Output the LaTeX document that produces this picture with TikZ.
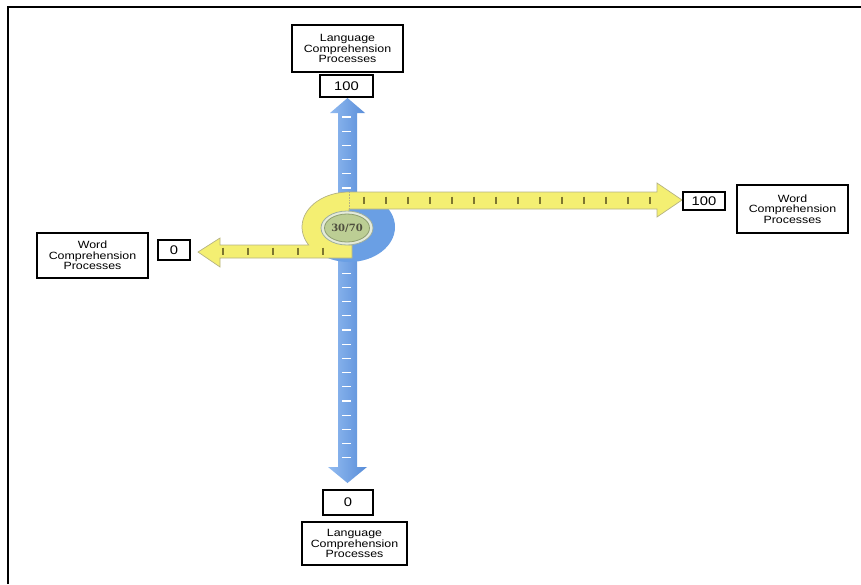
\documentclass[tikz,border=0pt]{standalone}
\usepackage{fontspec}
\setmainfont{Liberation Sans}
\newfontfamily\labelfont[FakeStretch=1.18]{Liberation Sans}
\newfontfamily\ratiofont{DejaVu Serif}
\usetikzlibrary{shapes.geometric}

\definecolor{axisblue}{HTML}{6A9FE4}
\definecolor{axisbluelight}{HTML}{93BCF1}
\definecolor{axisbluedark}{HTML}{578CD8}
\definecolor{bandyellow}{HTML}{F4EF72}
\definecolor{bandedge}{HTML}{B5B283}
\definecolor{tickolive}{HTML}{7D7630}
\definecolor{ringfill}{HTML}{E5EBDA}
\definecolor{ringedge}{HTML}{9DAE9F}
\definecolor{hubgreen}{HTML}{BCCE94}
\definecolor{hubedge}{HTML}{8D9E6E}
\definecolor{hubtext}{HTML}{4E4E3E}

\tikzset{
  labelbox/.style={draw=black, line width=1.2pt, fill=white, inner sep=0pt,
    align=center, font=\labelfont\fontsize{10.5}{10.6}\selectfont},
  valuebox/.style={draw=black, line width=1.2pt, fill=white, inner sep=0pt,
    align=center, font=\labelfont\fontsize{12.5}{12.5}\selectfont},
  bluetick/.style={white, line width=1.1pt},
  yellowtick/.style={tickolive, line width=1.2pt},
}

\begin{document}
\begin{tikzpicture}[x=1pt, y=-1pt]
  \useasboundingbox (0,0) rectangle (861,584);

  % outer frame
  \draw[line width=2pt] (8,584) -- (8,7) -- (861,7);

  % vertical (language) axis
  \shade[left color=axisbluelight, middle color=axisblue, right color=axisbluedark]
    (338,113) -- (330,113) -- (347.5,98) -- (365,113) -- (357,113)
    -- (357,467) -- (367,467) -- (347.5,483) -- (328,467) -- (338,467) -- cycle;
  \foreach \k in {0,...,24}
    \draw[bluetick] (342,{117+14.2*\k}) -- (351,{117+14.2*\k});

  % blue half of the hub
  \fill[axisblue] (349,227) ellipse[x radius=46, y radius=35];

  % yellow (word) axis with the curl around the hub
  \fill[bandyellow, draw=bandedge, line width=0.7pt]
    (198,252) -- (220,238) -- (220,245) -- (308.7,245)
    arc[start angle=149.1, end angle=270, x radius=47, y radius=35]
    -- (657,192) -- (657,183) -- (682,200) -- (657,217) -- (657,209)
    -- (349,209) -- (349,245) -- (352,245) -- (352,258) -- (220,258)
    -- (220,267) -- cycle;
  \draw[bandedge, densely dotted, line width=0.6pt] (349,192) -- (349,209);
  \foreach \x in {364,386,...,650}
    \draw[yellowtick] (\x,196.5) -- (\x,204);
  \foreach \x in {223,248,273,298,323}
    \draw[yellowtick] (\x,247.5) -- (\x,254.5);

  % hub
  \fill[ringfill, draw=ringedge, line width=0.8pt]
    (347,228) ellipse[x radius=26, y radius=17];
  \node[ellipse, fill=hubgreen, draw=hubedge, line width=0.8pt,
        minimum width=45pt, minimum height=28pt, inner sep=0pt,
        font=\ratiofont\bfseries\fontsize{10}{10}\selectfont, text=hubtext]
    (hub) at (347,228) {30/70};

  % labels
  \node[labelbox, minimum width=111pt, minimum height=47pt] (langtop) at (347.5,48.5)
    {Language\\Comprehension\\Processes};
  \node[valuebox, minimum width=53pt, minimum height=22pt] (langmax) at (346.5,86) {100};
  \node[valuebox, minimum width=50pt, minimum height=25pt] (langmin) at (348,502.5) {0};
  \node[labelbox, minimum width=105pt, minimum height=43pt] (langbot) at (354.5,543.5)
    {Language\\Comprehension\\Processes};
  \node[labelbox, minimum width=111pt, minimum height=45pt] (wordleft) at (92.5,255.5)
    {Word\\Comprehension\\Processes};
  \node[valuebox, minimum width=32pt, minimum height=20pt] (wordmin) at (174,250) {0};
  \node[valuebox, minimum width=42pt, minimum height=18pt] (wordmax) at (704,201) {100};
  \node[labelbox, minimum width=111pt, minimum height=48pt] (wordright) at (792.5,209)
    {Word\\Comprehension\\Processes};
\end{tikzpicture}
\end{document}
